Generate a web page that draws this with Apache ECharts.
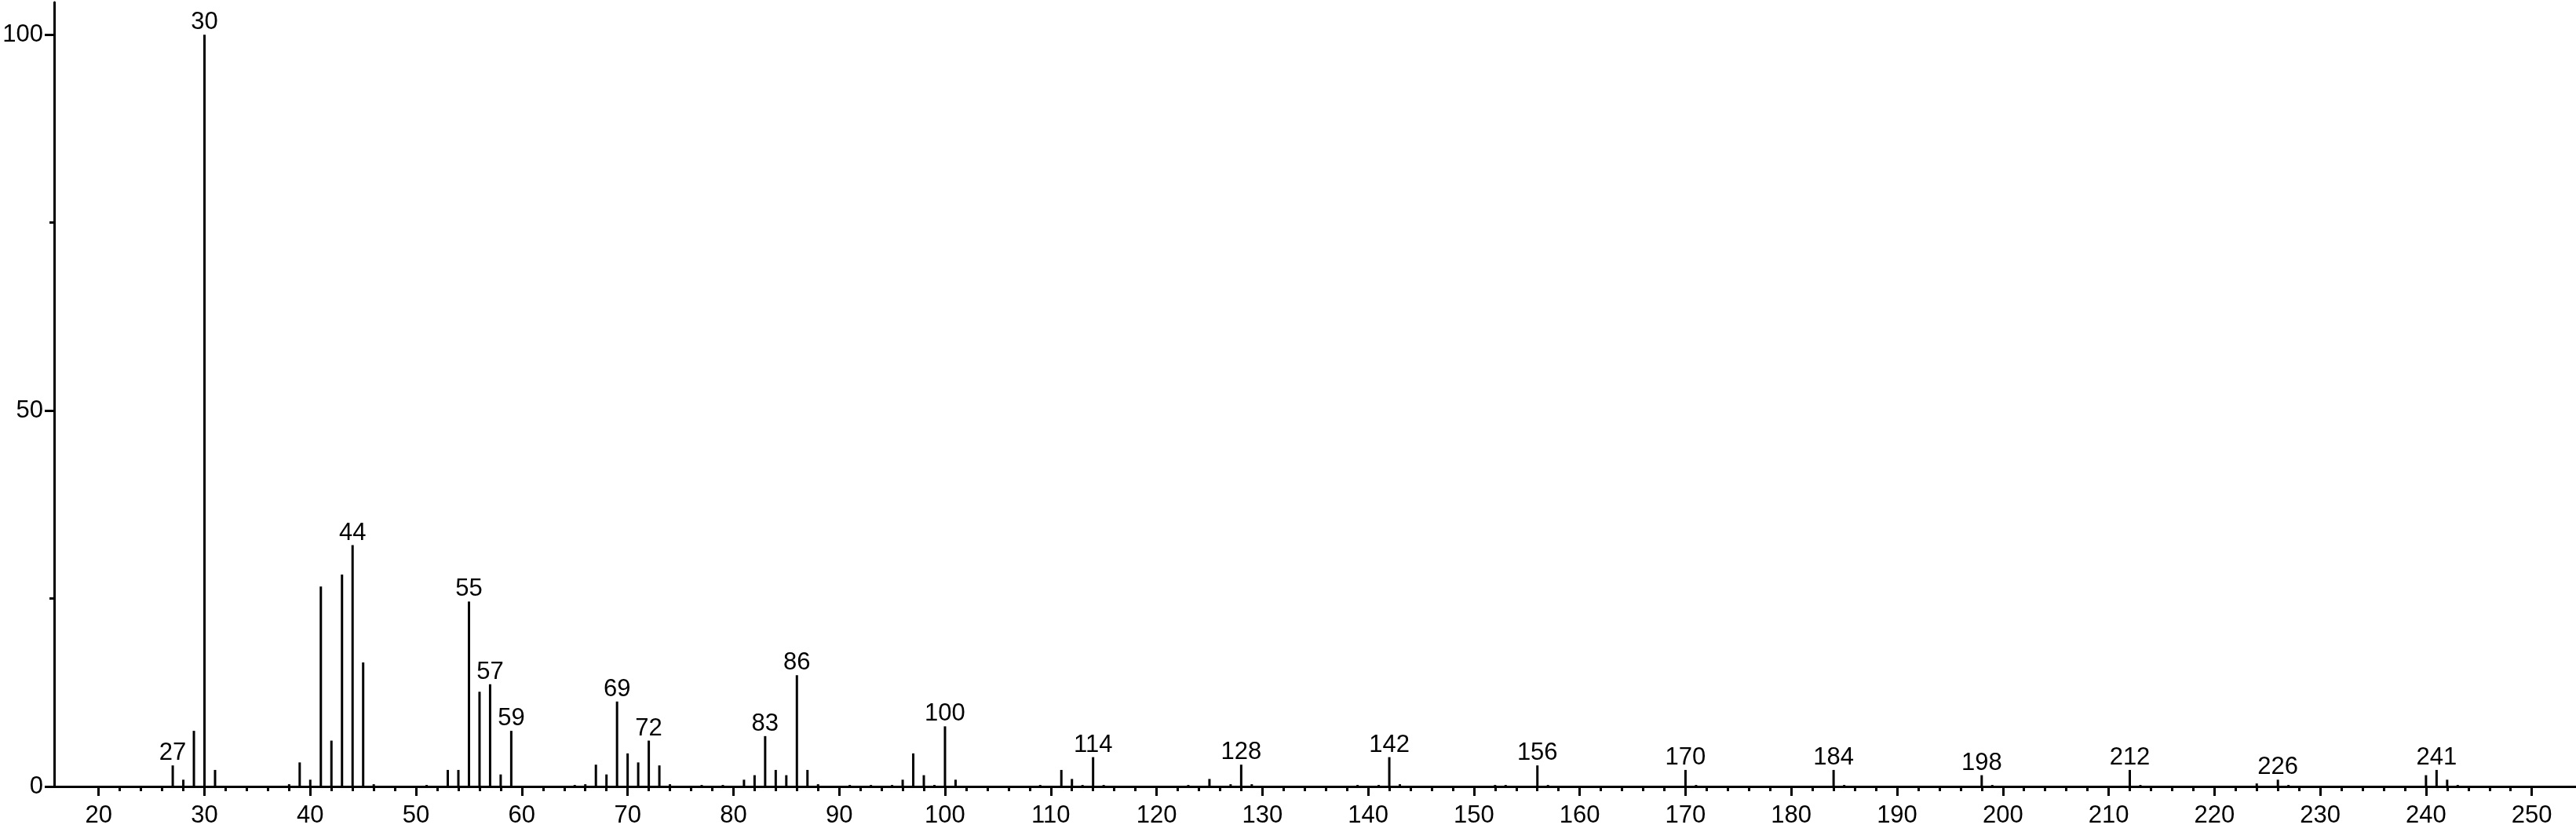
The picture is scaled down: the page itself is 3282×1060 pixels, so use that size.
<!DOCTYPE html>
<html>
<head>
<meta charset="utf-8">
<script src="https://cdn.jsdelivr.net/npm/echarts@6/dist/echarts.min.js"></script>
<style>
html,body{margin:0;padding:0;background:#ffffff;}
#chart{width:3282px;height:1060px;}
</style>
</head>
<body>
<div id="chart"></div>
<script>
// m/z values and relative intensities (%)
var mz = [27,28,29,30,31,38,39,40,41,42,43,44,45,46,51,53,54,55,56,57,58,59,65,66,67,68,69,70,71,72,73,74,77,79,81,82,83,84,85,86,87,88,91,93,95,96,97,98,99,100,101,109,111,112,113,114,115,123,125,127,128,129,139,141,142,143,152,153,156,157,170,171,184,185,198,199,212,213,224,226,227,240,241,242,243];
var intensity = [2.8,0.9,7.4,100,2.2,0.3,3.2,0.9,26.6,6.1,28.2,32.1,16.5,0.3,0.2,2.2,2.2,24.6,12.6,13.6,1.6,7.4,0.2,0.3,2.9,1.6,11.3,4.4,3.2,6.1,2.8,0.3,0.2,0.2,0.9,1.5,6.7,2.2,1.5,14.8,2.2,0.3,0.2,0.2,0.2,0.9,4.4,1.5,0.2,8.0,0.9,0.2,2.2,1.0,0.2,3.9,0.2,0.2,1.0,0.3,2.9,0.3,0.2,0.2,3.9,0.3,0.2,0.2,2.8,0.2,2.2,0.2,2.2,0.2,1.5,0.2,2.2,0.2,0.4,0.9,0.2,1.5,2.2,0.9,0.2];
var labeledPeaks = [27,30,44,55,57,59,69,72,83,86,100,114,128,142,156,170,184,198,212,226,241];
var xMajorTicks = [20,30,40,50,60,70,80,90,100,110,120,130,140,150,160,170,180,190,200,210,220,230,240,250];
var xMinorTicks = [];
for (var t = 22; t < 250; t += 2) { if (t % 10 !== 0) xMinorTicks.push(t); }
var yMajorTicks = [0,50,100];
var yMinorTicks = [25,75];

var FONT = 'Liberation Sans, Arial, sans-serif';
var X_MIN = 15.79, X_MAX = 254.18, Y_MAX = 104.3;

var data = mz.map(function(m, i){
  var item = {value:[m, intensity[i]]};
  if (labeledPeaks.indexOf(m) >= 0) item.label = {show:true};
  return item;
});

var chart = echarts.init(document.getElementById('chart'), null, {renderer:'canvas'});
chart.setOption({
  animation:false,
  backgroundColor:'#ffffff',
  grid:{left:69,right:0,top:3,bottom:58,containLabel:false},
  xAxis:[{
    type:'value',min:X_MIN,max:X_MAX,
    axisLine:{show:true,onZero:false,lineStyle:{color:'#000',width:3}},
    axisTick:{show:true,customValues:xMajorTicks,length:12,lineStyle:{color:'#000',width:3}},
    axisLabel:{show:true,customValues:xMajorTicks,color:'#000',fontSize:31,fontFamily:FONT,margin:22},
    splitLine:{show:false}
  },{
    type:'value',min:X_MIN,max:X_MAX,position:'bottom',
    axisLine:{show:false},
    axisTick:{show:true,customValues:xMinorTicks,length:6,lineStyle:{color:'#000',width:3}},
    axisLabel:{show:false},
    splitLine:{show:false}
  }],
  yAxis:[{
    type:'value',min:0,max:Y_MAX,
    axisLine:{show:true,onZero:false,lineStyle:{color:'#000',width:3}},
    axisTick:{show:true,customValues:yMajorTicks,length:12,lineStyle:{color:'#000',width:3}},
    axisLabel:{show:true,customValues:yMajorTicks,color:'#000',fontSize:31,fontFamily:FONT,margin:14,padding:[8,0,0,0]},
    splitLine:{show:false}
  },{
    type:'value',min:0,max:Y_MAX,position:'left',
    axisLine:{show:false},
    axisTick:{show:true,customValues:yMinorTicks,length:6,lineStyle:{color:'#000',width:3}},
    axisLabel:{show:false},
    splitLine:{show:false}
  }],
  series:[{
    type:'bar',xAxisIndex:0,yAxisIndex:0,
    barWidth:3,
    itemStyle:{color:'#000'},
    label:{show:false,position:'top',distance:0,color:'#000',fontSize:31,fontFamily:FONT,
      formatter:function(p){return String(p.value[0]);}},
    data:data
  }]
});
</script>
</body>
</html>
